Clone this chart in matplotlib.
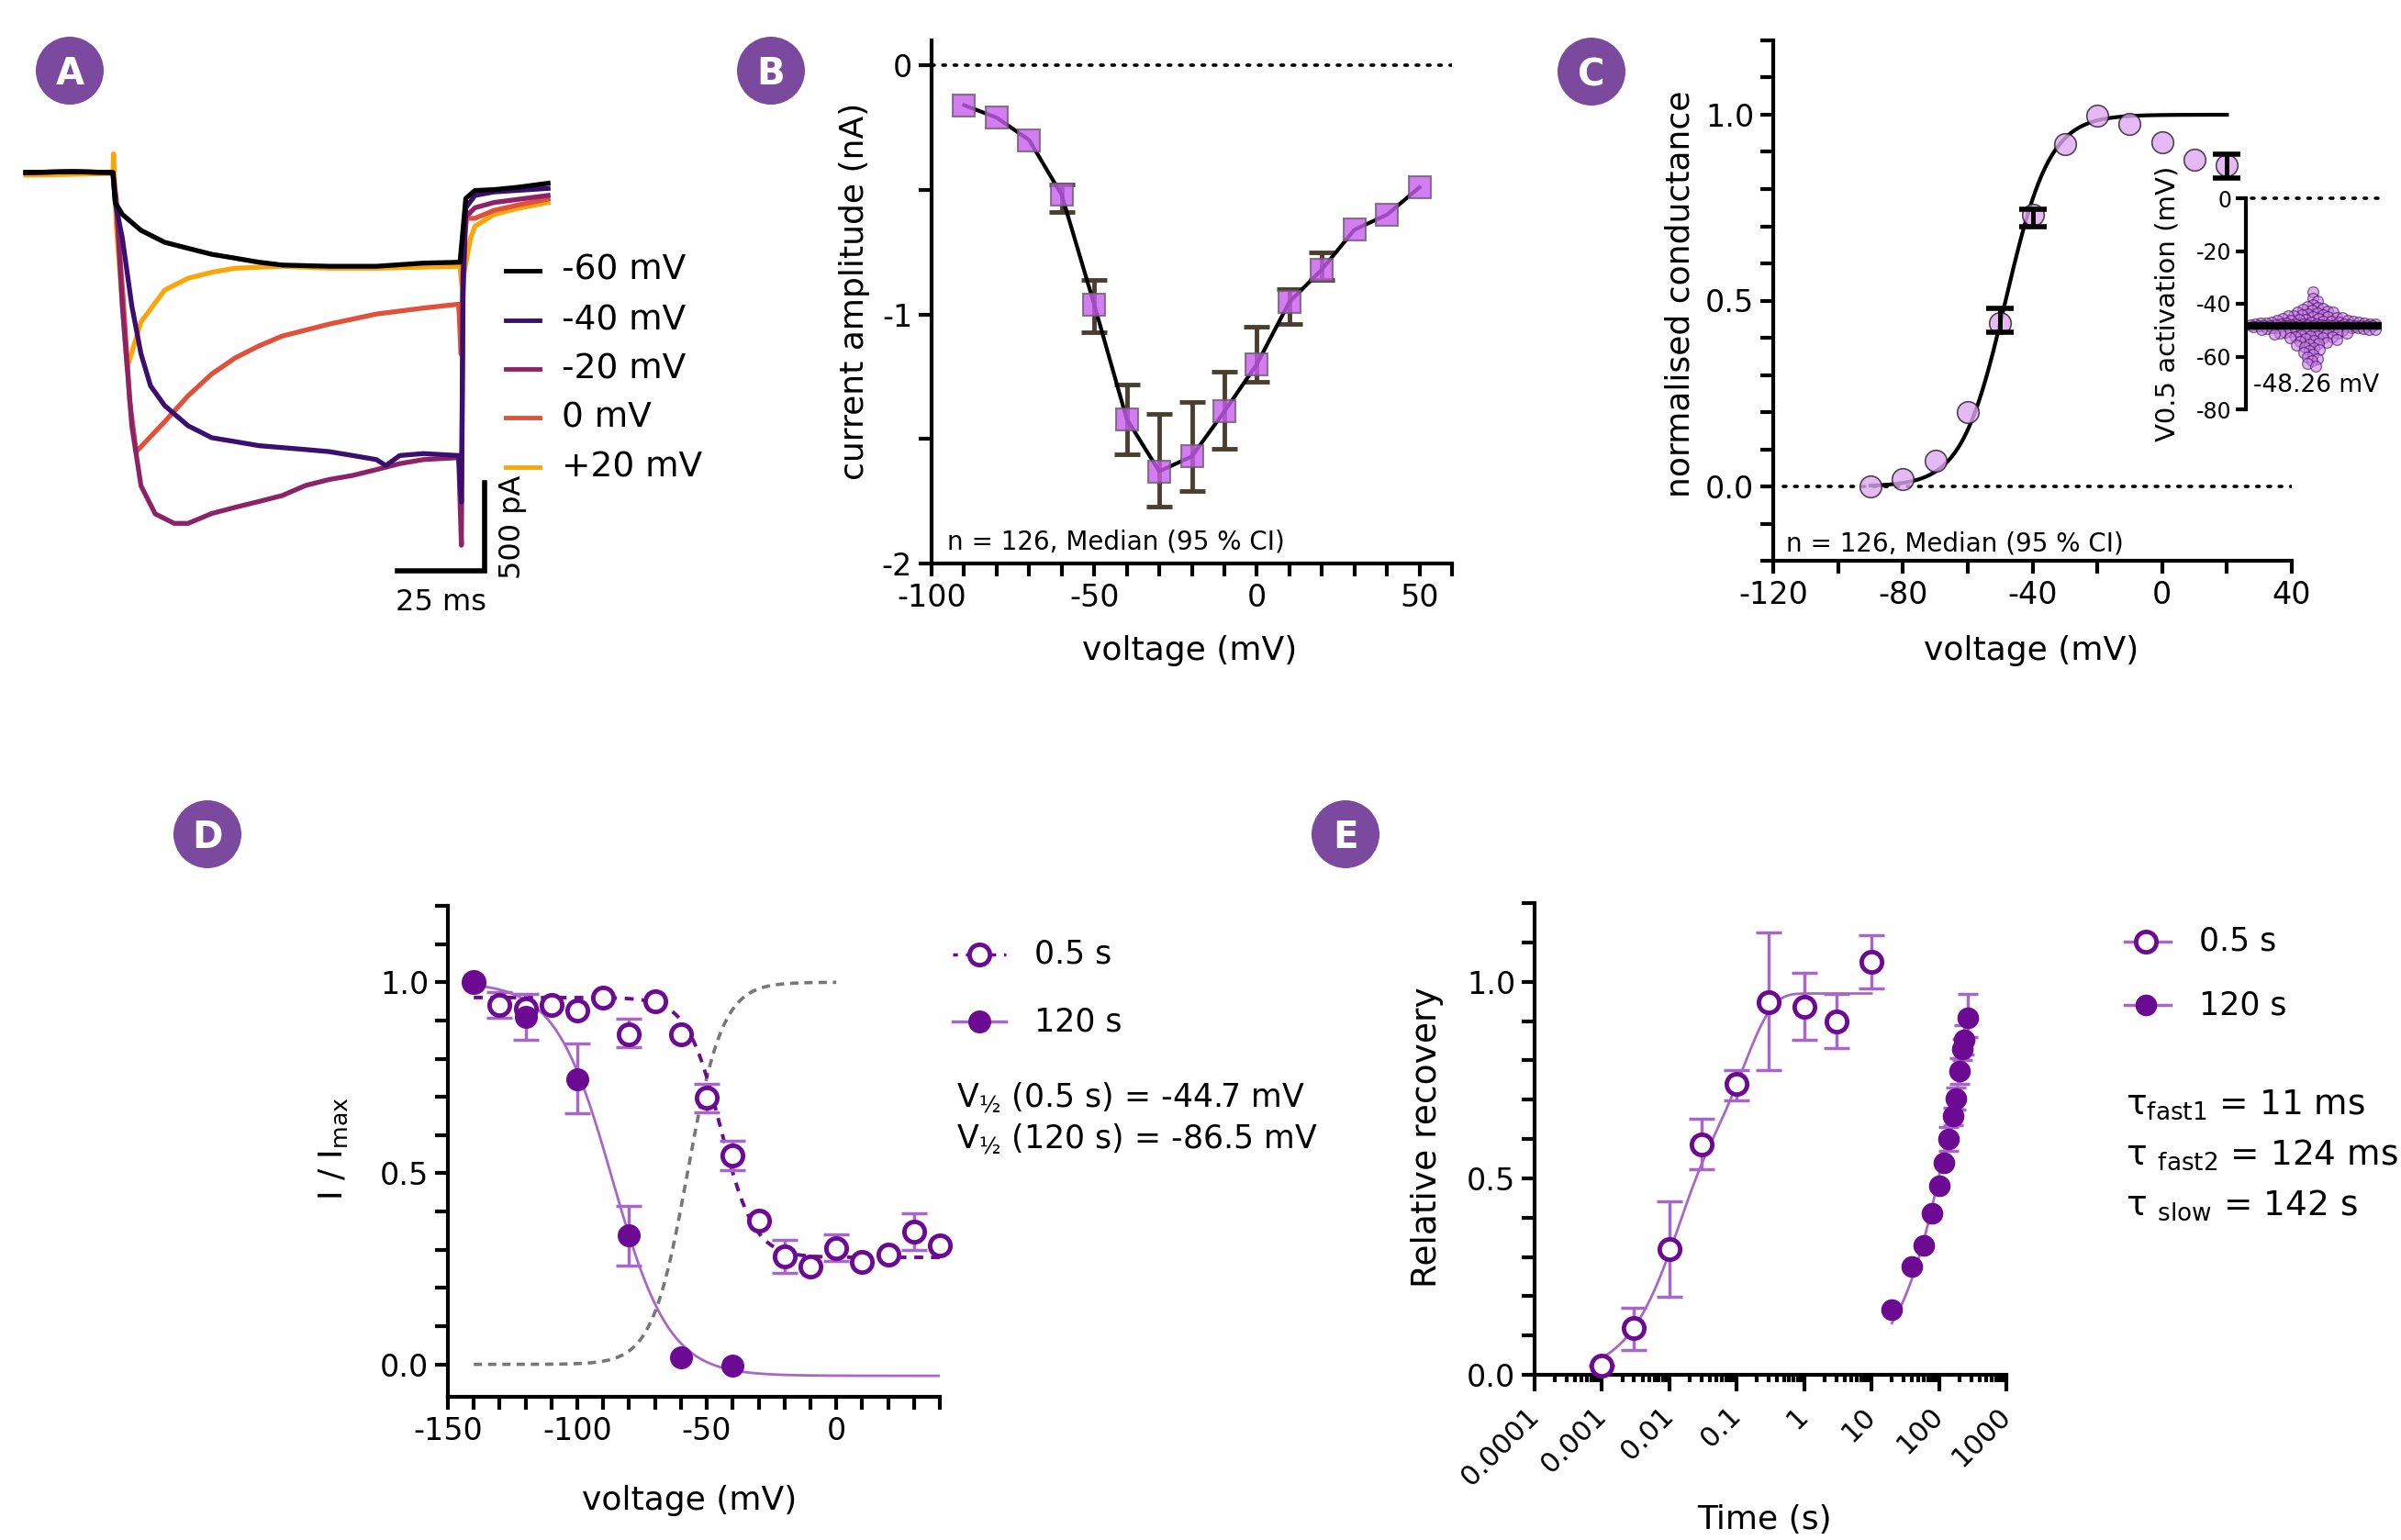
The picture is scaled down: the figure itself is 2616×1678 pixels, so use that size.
import numpy as np
import matplotlib
matplotlib.use("Agg")
import matplotlib.pyplot as plt
from matplotlib.patches import Circle
from matplotlib.lines import Line2D
from matplotlib.ticker import MultipleLocator, FixedLocator, NullFormatter, FormatStrFormatter

plt.rcParams['font.family'] = ['DejaVu Sans']
plt.rcParams['axes.unicode_minus'] = False
plt.rcParams['mathtext.default'] = 'regular'

# ---------------- data ----------------
# A: example current traces (ms, pA)
t_m60 = [-25.7, -12, 0, 0.7, 2.8, 8.3, 15.3, 22.2, 29.2, 36.1, 43.1, 50, 63.9, 77.8, 91.7, 102.5, 104.2, 106.9, 112.5, 119.4, 128.5]
i_m60 = [0, 5, 0, -170, -238, -328, -396, -430, -464, -486, -509, -525, -532, -532, -514, -509, -147, -102, -97, -84, -61]
t_m40 = [-25.7, -12, 0, 0.7, 2.8, 5.6, 8.3, 11.1, 15.3, 22.2, 29.2, 36.1, 43.1, 50, 56.9, 63.9, 70.8, 77.8, 80.6, 84.7, 91.7, 102.1, 102.9, 103.4, 104.2, 106.9, 112.5, 128.5]
i_m40 = [0, 5, 0, -170, -373, -758, -1029, -1210, -1323, -1437, -1505, -1527, -1550, -1561, -1572, -1584, -1606, -1629, -1663, -1606, -1595, -1606, -1870, -600, -200, -130, -110, -90]
t_m20 = [-25.7, -12, 0, 1.0, 2.8, 5.6, 8.3, 12.5, 18.1, 22.2, 29.2, 36.1, 43.1, 50, 56.9, 63.9, 70.8, 77.8, 84.7, 91.7, 102.1, 102.9, 103.4, 104.2, 106.9, 112.5, 128.5]
i_m20 = [0, 5, 0, -150, -760, -1439, -1778, -1937, -1991, -1991, -1935, -1900, -1867, -1833, -1776, -1742, -1719, -1686, -1652, -1629, -1618, -2115, -700, -250, -200, -170, -130]
t_0 = [-25.7, -12, 0, 1.0, 3.0, 5.0, 6.9, 15.3, 22.2, 29.2, 36.1, 43.1, 50, 63.9, 77.8, 91.7, 102.1, 102.8, 103.5, 104.5, 106.9, 112.5, 119.4, 128.5]
i_0 = [0, 5, 0, -200, -700, -1300, -1584, -1414, -1267, -1143, -1052, -984, -928, -860, -803, -769, -747, -1030, -400, -260, -260, -215, -185, -150]
t_p20 = [-25.7, -12, 0, 0.2, 1.0, 4.2, 8.3, 15.3, 22.2, 29.2, 36.1, 50, 63.9, 77.8, 102.5, 103.0, 105.6, 106.9, 112.5, 119.4, 128.5]
i_p20 = [-15, -10, -5, 106, -300, -1109, -848, -667, -600, -566, -543, -532, -543, -543, -532, -640, -373, -305, -238, -204, -170]
trace_labels = ['-60 mV', '-40 mV', '-20 mV', '0 mV', '+20 mV']
trace_colors = ['#000000', '#3b0f6f', '#8c2369', '#e0503a', '#fca50a']

# B: I-V relation (median, 95% CI)
iv_v = [-90, -80, -70, -60, -50, -40, -30, -20, -10, 0, 10, 20, 30, 40, 50]
iv_med = [-0.16, -0.21, -0.30, -0.52, -0.96, -1.42, -1.63, -1.57, -1.39, -1.20, -0.95, -0.82, -0.66, -0.60, -0.49]
iv_lo = [-0.16, -0.21, -0.30, -0.59, -1.07, -1.56, -1.77, -1.71, -1.54, -1.27, -1.04, -0.86, -0.66, -0.60, -0.49]
iv_hi = [-0.16, -0.21, -0.30, -0.48, -0.86, -1.28, -1.40, -1.35, -1.23, -1.05, -0.90, -0.75, -0.66, -0.60, -0.49]

# C: conductance-voltage
gv_v = [-90, -80, -70, -60, -50, -40, -30, -20, -10, 0, 10, 20]
gv_med = [0.0, 0.02, 0.07, 0.20, 0.44, 0.73, 0.92, 0.997, 0.975, 0.925, 0.88, 0.865]
gv_err_v = [-50, -40, 20]
gv_err_lo = [0.415, 0.70, 0.83]
gv_err_hi = [0.48, 0.745, 0.895]
gv_half, gv_slope = -48.3, 6.8
v05_act = [
    -35.6, -37.9, -39.0, -40.2, -40.9, -41.4, -41.8, -42.1, -42.5, -42.8,
    -43.0, -43.3, -43.5, -43.8, -44.0, -44.2, -44.4, -44.6, -44.8, -45.0,
    -45.1, -45.3, -45.5, -45.6, -45.8, -45.9, -46.1, -46.2, -46.3, -46.5,
    -46.6, -46.7, -46.8, -46.9, -47.0, -47.1, -47.2, -47.3, -47.3, -47.4,
    -47.5, -47.5, -47.6, -47.6, -47.7, -47.7, -47.8, -47.8, -47.9, -47.9,
    -48.0, -48.0, -48.0, -48.1, -48.1, -48.1, -48.2, -48.2, -48.2, -48.2,
    -48.25, -48.25, -48.25,
    -48.27, -48.3, -48.3, -48.4, -48.4, -48.5, -48.5, -48.6, -48.6, -48.7,
    -48.7, -48.8, -48.9, -48.9, -49.0, -49.1, -49.1, -49.2, -49.3, -49.4,
    -49.5, -49.6, -49.7, -49.8, -49.9, -50.0, -50.1, -50.3, -50.4, -50.5,
    -50.7, -50.8, -51.0, -51.1, -51.3, -51.5, -51.6, -51.8, -52.0, -52.2,
    -52.4, -52.6, -52.8, -53.0, -53.3, -53.6, -53.9, -54.2, -54.5, -54.9,
    -55.3, -55.7, -56.2, -56.7, -57.3, -57.9, -58.6, -59.3, -60.0, -60.8,
    -61.7, -62.6, -63.5]

# D: steady-state inactivation
inact_v_short = [-140, -130, -120, -110, -100, -90, -80, -70, -60, -50, -40, -30, -20, -10, 0, 10, 20, 30, 40]
inact_short = [1.0, 0.94, 0.93, 0.94, 0.925, 0.96, 0.864, 0.95, 0.863, 0.698, 0.546, 0.377, 0.283, 0.256, 0.305, 0.268, 0.287, 0.347, 0.312]
inact_short_err_v = [-130, -80, -50, -40, -20, 0, 30]
inact_short_err_lo = [0.908, 0.83, 0.66, 0.508, 0.24, 0.27, 0.30]
inact_short_err_hi = [0.975, 0.905, 0.735, 0.585, 0.325, 0.34, 0.395]
inact_v_long = [-140, -120, -100, -80, -60, -40]
inact_long = [1.0, 0.91, 0.746, 0.337, 0.019, -0.003]
inact_long_err_v = [-120, -100, -80]
inact_long_err_lo = [0.85, 0.657, 0.258]
inact_long_err_hi = [0.97, 0.84, 0.414]
fit_short = dict(top=0.96, bottom=0.28, half=-44.7, slope=6.5)
fit_long = dict(top=1.0, bottom=-0.03, half=-86.5, slope=11.0)
act_ref = dict(half=-57.5, slope=6.8)

# E: recovery from inactivation
rec_t_short = [0.001, 0.003, 0.01, 0.03, 0.1, 0.3, 1, 3, 10]
rec_short = [0.024, 0.118, 0.319, 0.585, 0.739, 0.949, 0.936, 0.90, 1.051]
rec_short_lo = [0.024, 0.063, 0.198, 0.524, 0.699, 0.776, 0.851, 0.830, 0.984]
rec_short_hi = [0.024, 0.170, 0.442, 0.652, 0.776, 1.125, 1.022, 0.970, 1.118]
rec_t_long = [20, 40, 60, 80, 100, 120, 140, 160, 180, 200, 220, 240, 270]
rec_long = [0.166, 0.276, 0.33, 0.41, 0.482, 0.539, 0.60, 0.658, 0.703, 0.773, 0.828, 0.852, 0.909]
rec_long_lo = [0.166, 0.276, 0.33, 0.41, 0.482, 0.539, 0.57, 0.635, 0.675, 0.74, 0.80, 0.815, 0.86]
rec_long_hi = [0.166, 0.276, 0.33, 0.41, 0.482, 0.539, 0.63, 0.68, 0.73, 0.805, 0.855, 0.89, 0.97]
tau_fast1, tau_fast2, tau_slow = 0.011, 0.124, 142.0
amp_fast1, amp_fast2 = 0.454, 0.516

# ---------------- figure ----------------
W, H = 2616, 1678
fig = plt.figure(figsize=(W / 100, H / 100), dpi=100)
PURPLE = '#6c0a94'
LIGHT = '#a966c9'
BADGE = '#7b4a9e'
TICK_FS = 24
LABEL_FS = 26


def px_axes(l, t, r, b):
    return fig.add_axes([l / W, 1 - b / H, (r - l) / W, (b - t) / H])


def style(ax, size=TICK_FS):
    for s in ['top', 'right']:
        ax.spines[s].set_visible(False)
    for s in ['left', 'bottom']:
        ax.spines[s].set_linewidth(3)
    ax.tick_params(which='both', width=3, length=10, labelsize=size, pad=5)
    ax.patch.set_alpha(0)


def fig_line(x0, x1, y, **kw):
    fig.add_artist(Line2D([x0 / W, x1 / W], [1 - y / H, 1 - y / H], transform=fig.transFigure, **kw))


def fig_marker(x, y, **kw):
    fig.add_artist(Line2D([x / W], [1 - y / H], transform=fig.transFigure, **kw))


# panel badges
for letter, cx, cy in [('A', 76, 77), ('B', 840, 77), ('C', 1734, 78), ('D', 226, 909), ('E', 1466, 909)]:
    fig.add_artist(Circle((cx / 100, (H - cy) / 100), 0.37, transform=fig.dpi_scale_trans, fc=BADGE, ec='none'))
    fig.text(cx / W, 1 - cy / H, letter, ha='center', va='center_baseline', color='white',
             fontsize=29, fontweight='bold')

# ---- A ----
axA = px_axes(12.3, 130.4, 639.6, 668)
axA.set_xlim(-30, 140)
axA.set_ylim(-2500, 300)
axA.axis('off')
traces = [(t_m60, i_m60), (t_m40, i_m40), (t_m20, i_m20), (t_0, i_0), (t_p20, i_p20)]
for k in [4, 3, 2, 1, 0]:
    tt, ii = traces[k]
    axA.plot(tt, ii, color=trace_colors[k], lw=3.8, solid_joinstyle='round')
for k, lab in enumerate(trace_labels):
    y = [-557, -839, -1115, -1391, -1672][k]
    axA.plot([116, 126], [y, y], color=trace_colors[k], lw=3.5, clip_on=False)
    axA.text(132.5, y, lab, fontsize=27, va='center', ha='left', clip_on=False)
axA.plot([84, 109.7, 109.7], [-2260, -2260, -1760], color='black', lw=4, clip_on=False, solid_joinstyle='miter')
axA.text(97, -2440, '25 ms', fontsize=23, ha='center', va='center')
axA.text(118, -2010, '500 pA', fontsize=23, ha='center', va='center', rotation=90)

# ---- B ----
axB = px_axes(1015, 44, 1582, 614)
style(axB)
axB.set_xlim(-100, 60)
axB.set_ylim(-2, 0.1)
axB.axhline(0, color='black', lw=2.6, ls=(0, (0.8, 2.6)), dash_capstyle='round', zorder=0)
axB.plot(iv_v, iv_med, color='black', lw=3, zorder=2)
err_idx = [k for k in range(len(iv_v)) if iv_hi[k] != iv_lo[k]]
axB.errorbar([iv_v[k] for k in err_idx], [iv_med[k] for k in err_idx],
             yerr=[[iv_med[k] - iv_lo[k] for k in err_idx], [iv_hi[k] - iv_med[k] for k in err_idx]],
             fmt='none', ecolor='#4b3e2e', elinewidth=3.5, capsize=10, capthick=3.5, zorder=1)
axB.plot(iv_v, iv_med, 's', ms=17, mfc='#c95df0', mec='#6e5e6e', mew=1.5, alpha=0.8, zorder=3)
axB.xaxis.set_major_locator(MultipleLocator(50))
axB.xaxis.set_minor_locator(MultipleLocator(10))
axB.yaxis.set_major_locator(MultipleLocator(1))
axB.yaxis.set_minor_locator(MultipleLocator(0.5))
axB.set_xlabel('voltage (mV)', fontsize=LABEL_FS, va='center')
axB.xaxis.set_label_coords(0.496, -0.167)
axB.set_ylabel('current amplitude (nA)', fontsize=LABEL_FS, va='center')
axB.yaxis.set_label_coords(-0.148, 0.52)
axB.text(0.03, 0.042, 'n = 126, Median (95 % CI)', transform=axB.transAxes, fontsize=20, va='center')

# ---- C ----
axC = px_axes(1932, 44, 2497, 611)
style(axC)
axC.set_xlim(-120, 40)
axC.set_ylim(-0.2, 1.2)
axC.axhline(0, xmin=0.02, color='black', lw=2.6, ls=(0, (0.8, 2.6)), dash_capstyle='round', zorder=0)
vfit = np.linspace(-90, 20, 300)
axC.plot(vfit, 1 / (1 + np.exp((gv_half - vfit) / gv_slope)), color='black', lw=3, zorder=2)
axC.errorbar(gv_err_v, [(a + b) / 2 for a, b in zip(gv_err_lo, gv_err_hi)],
             yerr=[(b - a) / 2 for a, b in zip(gv_err_lo, gv_err_hi)],
             fmt='none', ecolor='black', elinewidth=3.5, capsize=11, capthick=4, zorder=4)
axC.plot(gv_v, gv_med, 'o', ms=17, mfc='#dfa8f0', mec='#2a1a2a', mew=1.2, alpha=0.8, zorder=3)
axC.xaxis.set_major_locator(MultipleLocator(40))
axC.xaxis.set_minor_locator(MultipleLocator(20))
axC.yaxis.set_major_locator(MultipleLocator(0.5))
axC.yaxis.set_minor_locator(MultipleLocator(0.1))
axC.yaxis.set_major_formatter(FormatStrFormatter('%.1f'))
axC.set_xlabel('voltage (mV)', fontsize=LABEL_FS, va='center')
axC.xaxis.set_label_coords(0.497, -0.173)
axC.set_ylabel('normalised conductance', fontsize=LABEL_FS, va='center')
axC.yaxis.set_label_coords(-0.18, 0.513)
axC.text(0.025, 0.032, 'n = 126, Median (95 % CI)', transform=axC.transAxes, fontsize=20, va='center')

# C inset: beeswarm of V0.5
axI = px_axes(2447, 216, 2600, 446)
style(axI, size=17)
axI.spines['bottom'].set_visible(False)
axI.set_xticks([])
axI.set_xlim(-1, 1)
axI.set_ylim(-80, 0)
axI.yaxis.set_major_locator(MultipleLocator(20))
axI.tick_params(axis='y', length=8, pad=3)
axI.axhline(0, xmin=0.04, color='black', lw=2.6, ls=(0, (0.8, 2.6)), dash_capstyle='round', clip_on=False)

ppu_y = 230 / 80.0
ppu_x = 153 / 2.0
vals = np.array(v05_act)
ypx = vals * ppu_y
cands = np.concatenate([[0.0], np.ravel(np.column_stack([np.arange(1, 140) * 0.5, -np.arange(1, 140) * 0.5]))])
cands = cands[np.abs(cands) <= 68]
placed_x, placed_y = [], []
for y in ypx:
    if placed_x:
        px_ = np.array(placed_x)
        py_ = np.array(placed_y)
        d2 = (cands[:, None] - px_[None, :]) ** 2 + (y - py_[None, :]) ** 2
        mind = d2.min(axis=1)
        ok = np.where(mind >= 6.0 ** 2)[0]
        c = cands[ok[0]] if len(ok) else cands[np.argmax(mind)]
    else:
        c = 0.0
    placed_x.append(c)
    placed_y.append(y)
swarm_x = np.array(placed_x) / ppu_x - 0.05
axI.plot(swarm_x, vals, 'o', ms=8.5, mfc='#c57fe6', mec='#4a0d5e', mew=1.0, alpha=0.6, zorder=2)
axI.plot([-0.97, 0.93], [np.median(vals)] * 2, color='black', lw=6, zorder=3, solid_capstyle='butt')
axI.text(0.0, -71, '%.2f mV' % np.median(vals), fontsize=19, ha='center', va='center')
axI.set_ylabel('V0.5 activation (mV)', fontsize=21, va='center')
axI.yaxis.set_label_coords(-0.56, 0.5)

# ---- D ----
axD = px_axes(488, 987, 1024, 1522)
style(axD)
axD.set_xlim(-150, 40)
axD.set_ylim(-0.085, 1.2)
vd = np.linspace(-140, 40, 400)
va_ = np.linspace(-140, 0, 300)
axD.plot(va_, 1 / (1 + np.exp((act_ref['half'] - va_) / act_ref['slope'])), color='#777777', lw=2.6,
         ls=(0, (2.5, 1.8)), zorder=1)
fs = fit_short
axD.plot(vd, fs['bottom'] + (fs['top'] - fs['bottom']) / (1 + np.exp((vd - fs['half']) / fs['slope'])),
         color=PURPLE, lw=2.8, ls=(0, (2.5, 2.2)), zorder=1)
fl = fit_long
axD.plot(vd, fl['bottom'] + (fl['top'] - fl['bottom']) / (1 + np.exp((vd - fl['half']) / fl['slope'])),
         color=LIGHT, lw=2, zorder=1)
axD.errorbar(inact_short_err_v, [inact_short[inact_v_short.index(v)] for v in inact_short_err_v],
             yerr=[[inact_short[inact_v_short.index(v)] - lo for v, lo in zip(inact_short_err_v, inact_short_err_lo)],
                   [hi - inact_short[inact_v_short.index(v)] for v, hi in zip(inact_short_err_v, inact_short_err_hi)]],
             fmt='none', ecolor=LIGHT, elinewidth=2.5, capsize=10, capthick=2.5, zorder=2)
axD.errorbar(inact_long_err_v, [inact_long[inact_v_long.index(v)] for v in inact_long_err_v],
             yerr=[[inact_long[inact_v_long.index(v)] - lo for v, lo in zip(inact_long_err_v, inact_long_err_lo)],
                   [hi - inact_long[inact_v_long.index(v)] for v, hi in zip(inact_long_err_v, inact_long_err_hi)]],
             fmt='none', ecolor=LIGHT, elinewidth=2.5, capsize=10, capthick=2.5, zorder=2)
axD.plot(inact_v_short, inact_short, 'o', ms=16, mfc='white', mec=PURPLE, mew=3.5, zorder=3, clip_on=False)
axD.plot(inact_v_long, inact_long, 'o', ms=17, mfc=PURPLE, mec=PURPLE, mew=1, zorder=4, clip_on=False)
axD.xaxis.set_major_locator(MultipleLocator(50))
axD.xaxis.set_minor_locator(MultipleLocator(10))
axD.yaxis.set_major_locator(MultipleLocator(0.5))
axD.yaxis.set_minor_locator(MultipleLocator(0.1))
axD.yaxis.set_major_formatter(FormatStrFormatter('%.1f'))
axD.set_xlabel('voltage (mV)', fontsize=LABEL_FS, va='center')
axD.xaxis.set_label_coords(0.49, -0.211)
axD.set_ylabel('I / I$_{max}$', fontsize=LABEL_FS, va='center')
axD.yaxis.set_label_coords(-0.233, 0.505)

# D legend + V1/2 annotations
fig_line(1038, 1096, 1040, color=PURPLE, lw=2.5, ls=(0, (1.5, 2.5)))
fig_marker(1067, 1040, marker='o', ms=16, mfc='white', mec=PURPLE, mew=3.5)
fig.text(1127 / W, 1 - 1040 / H, '0.5 s', fontsize=25, va='center')
fig_line(1038, 1096, 1113, color=LIGHT, lw=2.5)
fig_marker(1067, 1113, marker='o', ms=17, mfc=PURPLE, mec=PURPLE)
fig.text(1127 / W, 1 - 1113 / H, '120 s', fontsize=25, va='center')
fig.text(1042 / W, 1 - 1196 / H, 'V$_{½}$ (0.5 s) = -44.7 mV', fontsize=25, va='center')
fig.text(1042 / W, 1 - 1241 / H, 'V$_{½}$ (120 s) = -86.5 mV', fontsize=25, va='center')

# ---- E ----
axE = px_axes(1672, 984, 2186, 1498)
style(axE)
axE.set_xscale('log')
axE.set_xlim(1e-4, 1e3)
axE.set_ylim(0, 1.2)
tf = np.logspace(-3, 1, 300)
axE.plot(tf, amp_fast1 * (1 - np.exp(-tf / tau_fast1)) + amp_fast2 * (1 - np.exp(-tf / tau_fast2)),
         color=LIGHT, lw=2, zorder=1)
ts = np.linspace(20, 280, 200)
axE.plot(ts, 1 - np.exp(-ts / tau_slow), color=LIGHT, lw=2, zorder=1)
axE.errorbar(rec_t_short, rec_short,
             yerr=[np.array(rec_short) - np.array(rec_short_lo), np.array(rec_short_hi) - np.array(rec_short)],
             fmt='none', ecolor=LIGHT, elinewidth=2.5, capsize=10, capthick=2.5, zorder=2)
axE.errorbar(rec_t_long, rec_long,
             yerr=[np.array(rec_long) - np.array(rec_long_lo), np.array(rec_long_hi) - np.array(rec_long)],
             fmt='none', ecolor=LIGHT, elinewidth=2.5, capsize=8, capthick=2.5, zorder=2)
axE.plot(rec_t_short, rec_short, 'o', ms=16, mfc='white', mec=PURPLE, mew=3.5, zorder=3, clip_on=False)
axE.plot(rec_t_long, rec_long, 'o', ms=16, mfc=PURPLE, mec=PURPLE, mew=1, zorder=4, clip_on=False)
decades = [1e-4, 1e-3, 1e-2, 1e-1, 1, 10, 100, 1000]
axE.xaxis.set_major_locator(FixedLocator(decades))
minors = [m * d for d in decades[:-1] for m in range(2, 10)]
axE.xaxis.set_minor_locator(FixedLocator(minors))
axE.xaxis.set_minor_formatter(NullFormatter())
axE.set_xticklabels(['0.0001', '0.001', '0.01', '0.1', '1', '10', '100', '1000'],
                    rotation=45, ha='right', va='center', rotation_mode='anchor', fontsize=22)
axE.tick_params(axis='x', which='major', length=13, pad=16)
axE.tick_params(axis='x', which='minor', length=6)
axE.yaxis.set_major_locator(MultipleLocator(0.5))
axE.yaxis.set_minor_locator(MultipleLocator(0.1))
axE.yaxis.set_major_formatter(FormatStrFormatter('%.1f'))
axE.set_xlabel('Time (s)', fontsize=LABEL_FS, va='center')
axE.xaxis.set_label_coords(0.488, -0.307)
axE.set_ylabel('Relative recovery', fontsize=27, va='center')
axE.yaxis.set_label_coords(-0.228, 0.504)

fig_line(2315, 2365, 1026, color=LIGHT, lw=2.5)
fig_marker(2338, 1026, marker='o', ms=16, mfc='white', mec=PURPLE, mew=3.5)
fig.text(2396 / W, 1 - 1026 / H, '0.5 s', fontsize=25, va='center')
fig_line(2315, 2365, 1095, color=LIGHT, lw=2.5)
fig_marker(2338, 1095, marker='o', ms=16, mfc=PURPLE, mec=PURPLE)
fig.text(2396 / W, 1 - 1095 / H, '120 s', fontsize=25, va='center')
fig.text(2316 / W, 1 - 1204 / H, 'τ$_{fast1}$ = 11 ms', fontsize=27, va='center')
fig.text(2316 / W, 1 - 1258 / H, 'τ $_{fast2}$ = 124 ms', fontsize=27, va='center')
fig.text(2316 / W, 1 - 1313 / H, 'τ $_{slow}$ = 142 s', fontsize=27, va='center')

fig.savefig('out.png', dpi=100, facecolor='white')
